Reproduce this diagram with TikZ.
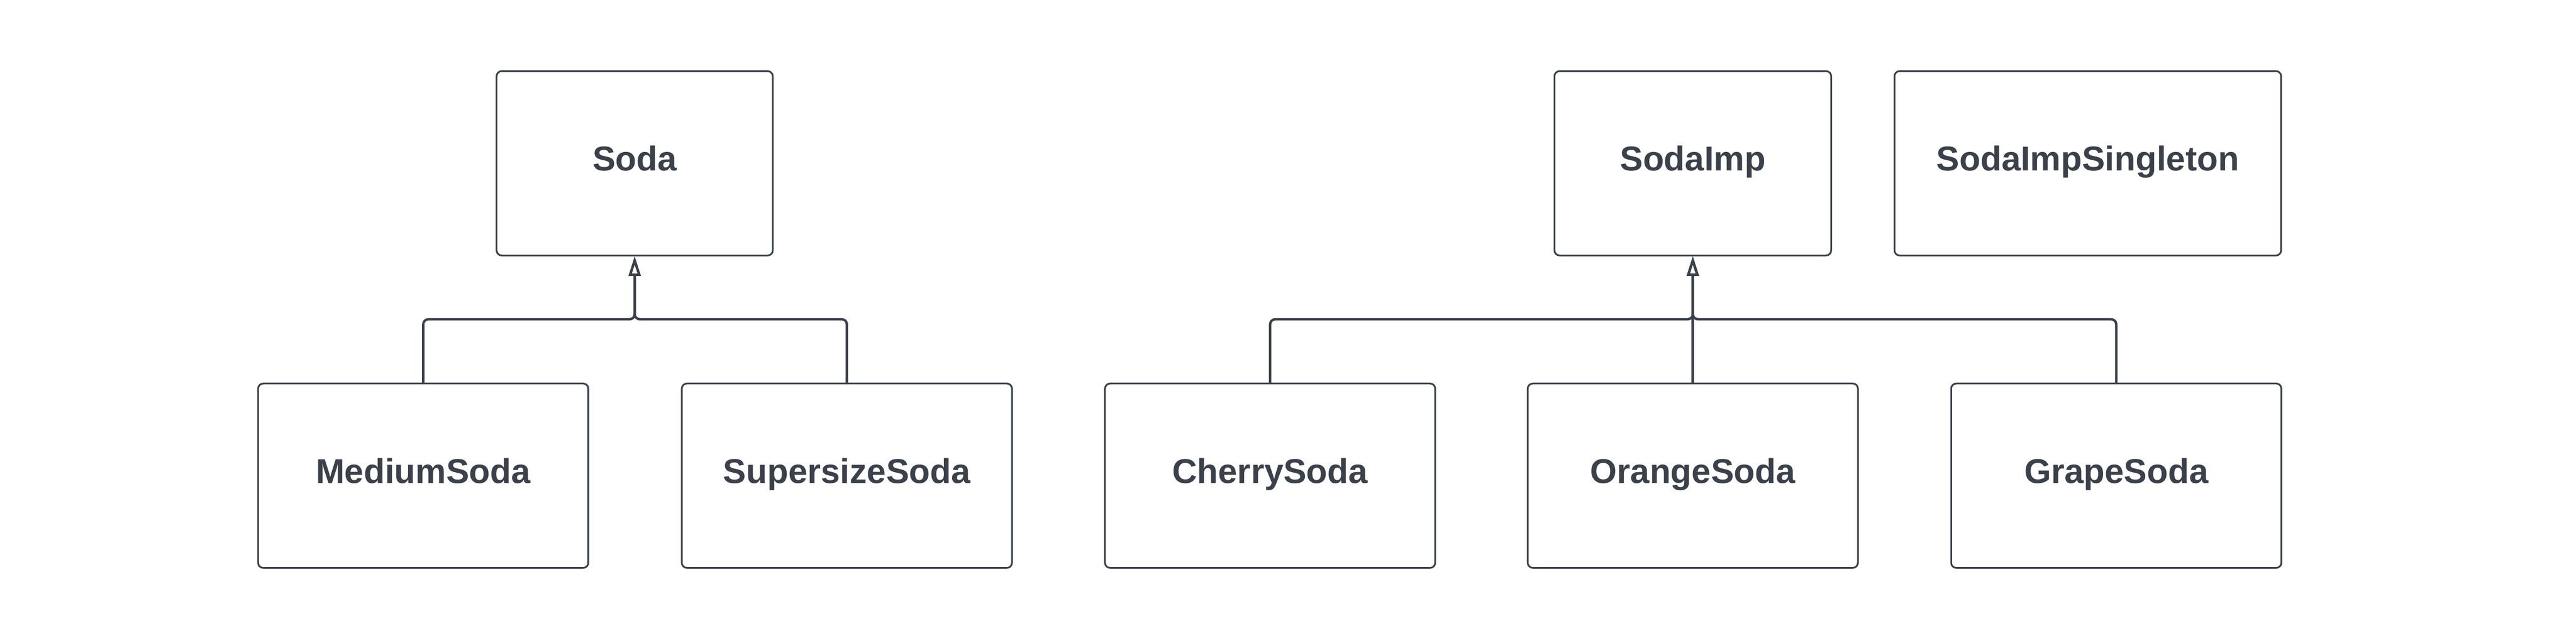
\documentclass[tikz,border=0pt]{standalone}
\usepackage{fontspec}
\setmainfont{Liberation Sans}
\usepackage{tikz}
\usetikzlibrary{arrows.meta}
\definecolor{umlgray}{HTML}{3A414A}
\tikzset{classbox/.style={draw=umlgray, line width=1pt, rounded corners=3pt, inner sep=0pt, minimum height=3.76cm, text=umlgray, font=\fontsize{20}{24}\selectfont\bfseries, text height=0.5cm, text depth=0.2cm}}
\tikzset{inherit/.style={draw=umlgray, line width=1.4pt, rounded corners=3pt, -{Triangle[open, length=0.4cm, width=0.24cm]}}}

\begin{document}
\begin{tikzpicture}
\useasboundingbox (0,0) rectangle (52.5,-13);
\coordinate (bus) at (0,-6.51);

% parents
\node[classbox, minimum width=5.63cm] (soda) at (12.935,-3.33) {Soda};
\node[classbox, minimum width=5.64cm] (sodaimp) at (34.50,-3.33) {SodaImp};
\node[classbox, minimum width=7.88cm] (singleton) at (42.55,-3.33) {SodaImpSingleton};

% children
\node[classbox, minimum width=6.73cm] (medium) at (8.625,-9.70) {MediumSoda};
\node[classbox, minimum width=6.73cm] (supersize) at (17.26,-9.70) {SupersizeSoda};
\node[classbox, minimum width=6.73cm] (cherry) at (25.885,-9.70) {CherrySoda};
\node[classbox, minimum width=6.73cm] (orange) at (34.50,-9.70) {OrangeSoda};
\node[classbox, minimum width=6.73cm] (grape) at (43.13,-9.70) {GrapeSoda};

\draw[inherit] (medium.north) -- (medium.north |- bus) -- (soda.south |- bus) -- (soda.south);
\draw[inherit] (supersize.north) -- (supersize.north |- bus) -- (soda.south |- bus) -- (soda.south);
\draw[inherit] (cherry.north) -- (cherry.north |- bus) -- (sodaimp.south |- bus) -- (sodaimp.south);
\draw[inherit] (orange.north) -- (sodaimp.south);
\draw[inherit] (grape.north) -- (grape.north |- bus) -- (sodaimp.south |- bus) -- (sodaimp.south);
\end{tikzpicture}
\end{document}
